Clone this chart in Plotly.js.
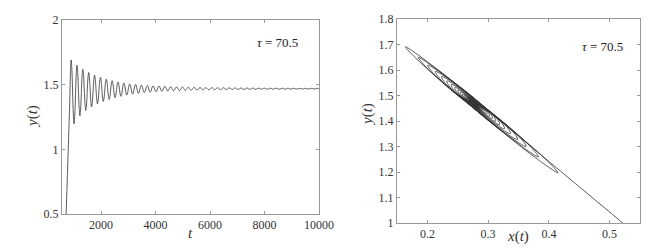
<!DOCTYPE html>
<html>
<head>
<meta charset="utf-8">
<script src="https://cdn.plot.ly/plotly-3.0.1.min.js"></script>
<style>html,body{margin:0;padding:0;background:#fff;}#chart{width:665px;height:250px;}</style>
</head>
<body>
<div id="chart"></div>
<script>
// Sample times: first cycles at 1/8 period, later cycles at 1/4 period
const tVals = [
  690, 780, 850, 877,
  900, 927, 954, 981, 1007, 1034, 1061, 1088,
  1115, 1142, 1169, 1196, 1222, 1249, 1276, 1303,
  1330, 1357, 1384, 1411, 1437, 1464, 1491, 1518,
  1545, 1572, 1599, 1626, 1652, 1679, 1706, 1733,
  1760, 1787, 1814, 1841, 1867, 1894, 1921, 1948,
  1975, 2002, 2029, 2056, 2082, 2109, 2136, 2163,
  2190, 2217, 2244, 2271, 2297, 2324, 2351, 2378,
  2405, 2432, 2459, 2486, 2512, 2539, 2566, 2593,
  2620, 2647, 2674, 2701, 2727, 2754, 2781, 2808,
  2835, 2862, 2889, 2916, 2942, 2969, 2996, 3023,
  3050, 3077, 3104, 3131, 3157, 3184, 3211, 3238,
  3265, 3292, 3319, 3346, 3372, 3399, 3426, 3453,
  3480, 3507, 3534, 3561, 3587, 3614, 3641, 3668,
  3695, 3722, 3749, 3776, 3802, 3829, 3856, 3883,
  3910, 3937, 3964, 3991, 4017, 4044, 4071, 4098,
  4125, 4152, 4179, 4206, 4232, 4259, 4286, 4313,
  4340, 4394, 4447, 4501,
  4555, 4609, 4662, 4716,
  4770, 4824, 4877, 4931,
  4985, 5039, 5092, 5146,
  5200, 5254, 5307, 5361,
  5415, 5469, 5522, 5576,
  5630, 5684, 5737, 5791,
  5845, 5899, 5952, 6006,
  6060, 6114, 6167, 6221,
  6275, 6329, 6382, 6436,
  6490, 6544, 6597, 6651,
  6705, 6759, 6812, 6866,
  6920, 6974, 7027, 7081,
  7135, 7189, 7242, 7296,
  7350, 7404, 7457, 7511,
  7565, 7619, 7672, 7726,
  7780, 7834, 7887, 7941,
  7995, 8049, 8102, 8156,
  8210, 8264, 8317, 8371,
  8425, 8479, 8532, 8586,
  8640, 8694, 8747, 8801,
  8855, 8909, 8962, 9016,
  9070, 9124, 9177, 9231,
  9285, 9339, 9392, 9446,
  9500, 9554, 9607, 9661,
  9715, 9769, 9822, 9876,
  9930, 9984, 10000
];

// y(t)
const yVals = [
  0.33, 0.91, 1.37, 1.60,
  1.691, 1.619, 1.444, 1.269, 1.197, 1.264, 1.424, 1.584,
  1.650, 1.593, 1.455, 1.316, 1.259, 1.312, 1.439, 1.566,
  1.619, 1.572, 1.460, 1.347, 1.300, 1.343, 1.447, 1.551,
  1.594, 1.555, 1.461, 1.367, 1.328, 1.364, 1.451, 1.538,
  1.574, 1.542, 1.463, 1.384, 1.351, 1.381, 1.454, 1.527,
  1.557, 1.530, 1.464, 1.398, 1.370, 1.396, 1.457, 1.518,
  1.543, 1.520, 1.465, 1.409, 1.386, 1.407, 1.459, 1.510,
  1.531, 1.512, 1.465, 1.418, 1.399, 1.417, 1.460, 1.503,
  1.521, 1.505, 1.466, 1.426, 1.410, 1.425, 1.462, 1.498,
  1.513, 1.499, 1.466, 1.433, 1.419, 1.432, 1.463, 1.493,
  1.506, 1.495, 1.467, 1.439, 1.427, 1.438, 1.464, 1.490,
  1.501, 1.491, 1.467, 1.443, 1.433, 1.442, 1.465, 1.488,
  1.497, 1.4885, 1.468, 1.447, 1.438, 1.446, 1.466, 1.485,
  1.493, 1.486, 1.468, 1.450, 1.442, 1.449, 1.467, 1.484,
  1.491, 1.484, 1.468, 1.452, 1.445, 1.451, 1.467, 1.483,
  1.489, 1.483, 1.469, 1.454, 1.448, 1.454, 1.468, 1.481,
  1.487, 1.469, 1.450, 1.468,
  1.485, 1.469, 1.452, 1.468,
  1.4835, 1.469, 1.4535, 1.468,
  1.482, 1.469, 1.455, 1.468,
  1.481, 1.469, 1.4565, 1.468,
  1.480, 1.469, 1.4575, 1.468,
  1.479, 1.469, 1.4585, 1.468,
  1.478, 1.469, 1.4595, 1.468,
  1.4775, 1.469, 1.4605, 1.468,
  1.477, 1.469, 1.461, 1.468,
  1.4765, 1.469, 1.4615, 1.468,
  1.476, 1.469, 1.462, 1.468,
  1.4755, 1.469, 1.4625, 1.468,
  1.475, 1.469, 1.463, 1.468,
  1.4745, 1.469, 1.4635, 1.468,
  1.474, 1.469, 1.464, 1.468,
  1.4737, 1.469, 1.4643, 1.468,
  1.4734, 1.469, 1.4646, 1.468,
  1.4731, 1.469, 1.4649, 1.468,
  1.4728, 1.469, 1.4652, 1.468,
  1.4726, 1.469, 1.4654, 1.468,
  1.4724, 1.469, 1.4656, 1.468,
  1.4722, 1.469, 1.4658, 1.468,
  1.472, 1.469, 1.466, 1.468,
  1.4718, 1.469, 1.4662, 1.468,
  1.4716, 1.469, 1.4664, 1.468,
  1.4715, 1.469, 1.4675
];

// x(t) at the same times
const xVals = [
  0.86, 0.567, 0.335, 0.218,
  0.164, 0.193, 0.2804, 0.3706, 0.415, 0.3886, 0.3086, 0.226,
  0.185, 0.2056, 0.2742, 0.3463, 0.383, 0.3647, 0.3017, 0.2357,
  0.2005, 0.2156, 0.271, 0.3299, 0.3626, 0.3496, 0.2982, 0.2439,
  0.2132, 0.2243, 0.2705, 0.3198, 0.3484, 0.3389, 0.2962, 0.2505,
  0.2234, 0.2315, 0.2701, 0.3117, 0.3367, 0.3297, 0.2941, 0.2555,
  0.232, 0.238, 0.2701, 0.305, 0.327, 0.3216, 0.292, 0.2597,
  0.2392, 0.2436, 0.2703, 0.300, 0.3189, 0.3154, 0.2903, 0.2631,
  0.2453, 0.2484, 0.2711, 0.2962, 0.3123, 0.3097, 0.289, 0.266,
  0.2503, 0.2526, 0.2714, 0.2927, 0.3067, 0.305, 0.2872, 0.2679,
  0.2544, 0.2562, 0.2721, 0.2897, 0.3021, 0.3008, 0.286, 0.2699,
  0.258, 0.2587, 0.2722, 0.2872, 0.2981, 0.2973, 0.2849, 0.2709,
  0.2605, 0.2613, 0.2727, 0.2857, 0.295, 0.2948, 0.2839, 0.2714,
  0.2625, 0.2629, 0.2727, 0.284, 0.2925, 0.2923, 0.2829, 0.2725,
  0.2646, 0.2646, 0.2732, 0.2829, 0.2905, 0.2904, 0.2819, 0.2726,
  0.2656, 0.266, 0.2737, 0.2823, 0.2889, 0.289, 0.2814, 0.2727,
  0.2666, 0.2668, 0.2734, 0.2816, 0.2874, 0.2872, 0.2806, 0.2735,
  0.2676, 0.2736, 0.2864, 0.2804,
  0.2686, 0.2739, 0.2854, 0.2801,
  0.2694, 0.2741, 0.2846, 0.2799,
  0.2701, 0.2744, 0.2839, 0.2796,
  0.2707, 0.2746, 0.2831, 0.2794,
  0.2712, 0.2748, 0.2826, 0.2792,
  0.2717, 0.2749, 0.2821, 0.2791,
  0.2722, 0.275, 0.2816, 0.279,
  0.2724, 0.2752, 0.2811, 0.2788,
  0.2727, 0.2753, 0.2808, 0.2787,
  0.2729, 0.2754, 0.2806, 0.2786,
  0.2732, 0.2755, 0.2803, 0.2785,
  0.2735, 0.2757, 0.2801, 0.2783,
  0.2737, 0.2757, 0.2798, 0.2783,
  0.274, 0.2758, 0.2796, 0.2782,
  0.2742, 0.2758, 0.2793, 0.2781,
  0.2744, 0.2759, 0.2792, 0.2781,
  0.2745, 0.276, 0.279, 0.278,
  0.2747, 0.276, 0.2789, 0.278,
  0.2748, 0.2761, 0.2787, 0.2779,
  0.2749, 0.2761, 0.2786, 0.2779,
  0.275, 0.2761, 0.2785, 0.2779,
  0.2752, 0.2762, 0.2784, 0.2778,
  0.2753, 0.2762, 0.2783, 0.2778,
  0.2754, 0.2762, 0.2782, 0.2778,
  0.2755, 0.2762, 0.2781, 0.2778,
  0.2755, 0.2763, 0.2772
];

const leftXTicks = [2000, 4000, 6000, 8000, 10000];
const leftXLabels = ['2000', '4000', '6000', '8000', '10000'];
const leftYTicks = [0.5, 1, 1.5, 2];
const leftYLabels = ['0.5', '1', '1.5', '2'];
const rightXTicks = [0.2, 0.3, 0.4, 0.5];
const rightXLabels = ['0.2', '0.3', '0.4', '0.5'];
const rightYTicks = [1, 1.1, 1.2, 1.3, 1.4, 1.5, 1.6, 1.7, 1.8];
const rightYLabels = ['1', '1.1', '1.2', '1.3', '1.4', '1.5', '1.6', '1.7', '1.8'];
const tauLabel = '<i>τ</i> = 70.5';

const SERIF = 'Times New Roman, Liberation Serif, DejaVu Serif, serif';
const lineStyle = {color: '#333333', width: 0.8, shape: 'spline', smoothing: 1, simplify: false};

const traces = [
  {x: tVals, y: yVals, xaxis: 'x', yaxis: 'y', type: 'scatter', mode: 'lines', line: lineStyle, hoverinfo: 'skip'},
  {x: xVals, y: yVals, xaxis: 'x2', yaxis: 'y2', type: 'scatter', mode: 'lines', line: lineStyle, hoverinfo: 'skip'}
];

const axCommon = {
  ticks: 'inside', ticklen: 3, tickcolor: '#999', tickwidth: 1,
  showline: true, linecolor: '#999', linewidth: 1, mirror: 'ticks',
  showgrid: false, zeroline: false, fixedrange: true,
  tickfont: {family: SERIF, size: 12, color: '#333'}
};

const W = 665, H = 250;
function px(x) { return x / W; }
function py(y) { return 1 - y / H; }
const annFont = {family: SERIF, size: 15, color: '#333'};
const tauFont = {family: SERIF, size: 13, color: '#222'};

const layout = {
  width: W, height: H,
  margin: {l: 0, r: 0, t: 0, b: 0},
  showlegend: false,
  paper_bgcolor: '#fff', plot_bgcolor: '#fff',
  font: {family: SERIF, size: 12, color: '#333'},
  xaxis: Object.assign({}, axCommon, {domain: [62 / W, 319 / W], range: [565, 10000], tickvals: leftXTicks, ticktext: leftXLabels, anchor: 'y'}),
  yaxis: Object.assign({}, axCommon, {domain: [py(214), py(20)], range: [0.5, 2], tickvals: leftYTicks, ticktext: leftYLabels, anchor: 'x'}),
  xaxis2: Object.assign({}, axCommon, {domain: [397 / W, 640 / W], range: [0.15, 0.55], tickvals: rightXTicks, ticktext: rightXLabels, anchor: 'y2'}),
  yaxis2: Object.assign({}, axCommon, {domain: [py(223), py(19)], range: [1, 1.8], tickvals: rightYTicks, ticktext: rightYLabels, anchor: 'x2'}),
  annotations: [
    {xref: 'paper', yref: 'paper', x: px(190), y: py(233), text: '<i>t</i>', showarrow: false, xanchor: 'center', yanchor: 'middle', font: annFont},
    {xref: 'paper', yref: 'paper', x: px(32), y: py(117), text: '<i>y</i>(<i>t</i>)', textangle: -90, showarrow: false, xanchor: 'center', yanchor: 'middle', font: annFont},
    {xref: 'paper', yref: 'paper', x: px(368), y: py(115), text: '<i>y</i>(<i>t</i>)', textangle: -90, showarrow: false, xanchor: 'center', yanchor: 'middle', font: annFont},
    {xref: 'paper', yref: 'paper', x: px(518), y: py(236), text: '<i>x</i>(<i>t</i>)', showarrow: false, xanchor: 'center', yanchor: 'middle', font: annFont},
    {xref: 'paper', yref: 'paper', x: px(277), y: py(43), text: tauLabel, showarrow: false, xanchor: 'center', yanchor: 'middle', font: tauFont},
    {xref: 'paper', yref: 'paper', x: px(602), y: py(47), text: tauLabel, showarrow: false, xanchor: 'center', yanchor: 'middle', font: tauFont}
  ]
};

Plotly.newPlot('chart', traces, layout, {staticPlot: true, displayModeBar: false});
</script>
</body>
</html>
